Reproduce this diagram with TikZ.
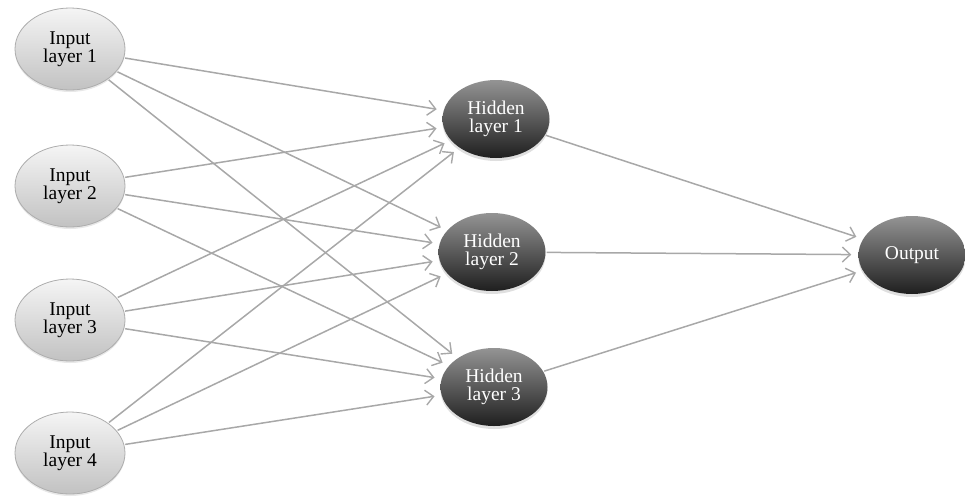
\documentclass[tikz,border=0pt]{standalone}
\usepackage{fontspec}
\setmainfont{Liberation Serif}
\usetikzlibrary{shapes.geometric,arrows.meta,shadows}
\begin{document}
\begin{tikzpicture}[x=1pt,y=-1pt,
  inbox/.style={ellipse, minimum width=110pt, minimum height=82pt, inner sep=0pt,
    top color=white!96!black, bottom color=white!76!black, draw=white!68!black, line width=0.8pt,
    align=center, font=\fontsize{19.5}{18}\selectfont, text=black,
    drop shadow={opacity=0.18, shadow xshift=0pt, shadow yshift=-2pt}},
  hidbox/.style={ellipse, minimum width=107pt, minimum height=78pt, inner sep=0pt,
    top color=white!58!black, bottom color=black!88, draw=none,
    align=center, font=\fontsize{19.5}{18}\selectfont, text=white,
    drop shadow={opacity=0.25, shadow xshift=0pt, shadow yshift=-3pt}},
  link/.style={draw=white!66!black, line width=1.5pt,
    -{Straight Barb[length=8pt,width=15pt,line width=1.4pt]}, shorten >=7pt, shorten <=1pt}
]
\useasboundingbox (0,0) rectangle (965,496);
\node[inbox] (i1) at (70,49) {Input\\layer 1};
\node[inbox] (i2) at (70,186) {Input\\layer 2};
\node[inbox] (i3) at (70,320) {Input\\layer 3};
\node[inbox] (i4) at (70,453) {Input\\layer 4};
\node[hidbox] (h1) at (496,119) {Hidden\\layer 1};
\node[hidbox] (h2) at (492,252) {Hidden\\layer 2};
\node[hidbox] (h3) at (494,387) {Hidden\\layer 3};
\node[hidbox] (o) at (912,255) {Output};
\foreach \i in {i1,i2,i3,i4}{
  \foreach \h in {h1,h2,h3}{
    \draw[link] (\i) -- (\h);
  }
}
\foreach \h in {h1,h2,h3}{
  \draw[link] (\h) -- (o);
}
\end{tikzpicture}
\end{document}
